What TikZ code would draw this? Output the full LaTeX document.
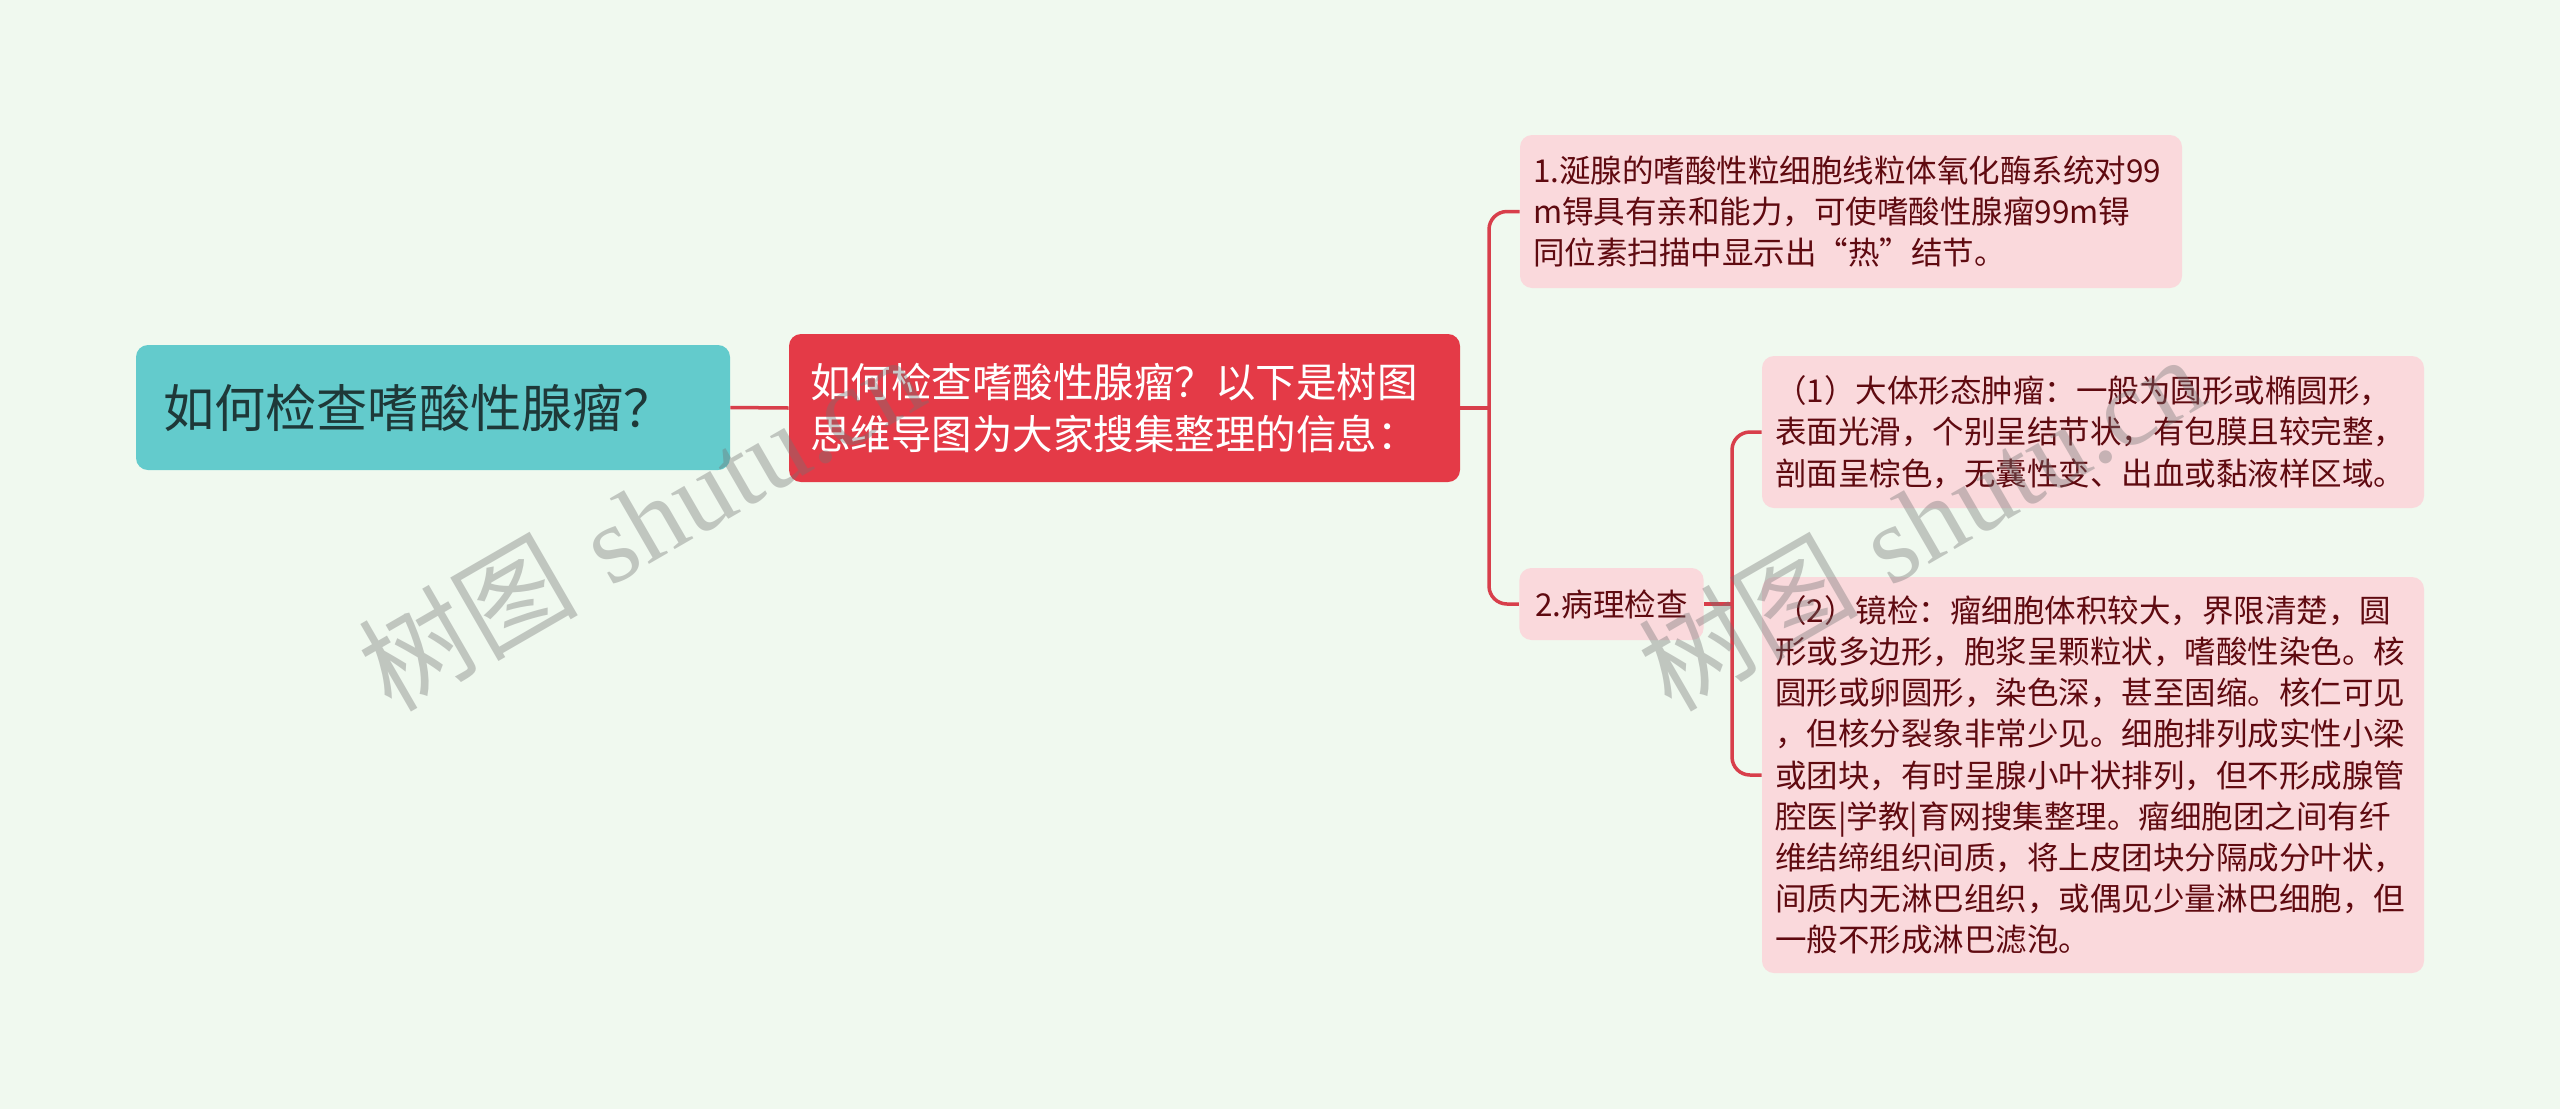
\documentclass[tikz,border=0pt]{standalone}
\usepackage{fontspec}
\newfontfamily\cjk{Noto Sans CJK SC}
\newfontfamily\wmserif{Liberation Serif}
\definecolor{bgc}{HTML}{F0F9EF}
\definecolor{rootc}{HTML}{63CBCC}
\definecolor{roottext}{HTML}{1E3838}
\definecolor{mainc}{HTML}{E43A47}
\definecolor{leafc}{HTML}{FAD9DC}
\definecolor{leaftext}{HTML}{5F0A10}
\definecolor{linec}{HTML}{D83F4B}
\tikzset{
  box/.style={rounded corners=6pt, inner ysep=0pt, align=left, anchor=center},
  rootbox/.style={box, fill=rootc, text=roottext, font=\cjk\fontsize{25.6}{32}\selectfont,
    text width=270pt, inner xsep=13.5pt, minimum height=62.5pt},
  mainbox/.style={box, fill=mainc, text=white, font=\cjk\fontsize{20.25}{26}\selectfont,
    text width=314.5pt, inner xsep=10.5pt, minimum height=74pt},
  leafbase/.style={box, fill=leafc, text=leaftext, font=\cjk\fontsize{15.75}{20.6}\selectfont},
  leafwide/.style={leafbase, text width=318pt, inner xsep=6.5pt},
  conn/.style={draw=linec, line width=1.75pt, rounded corners=9pt},
  wm/.style={text=black!55, opacity=0.38, font=\fontsize{55}{60}\selectfont, inner sep=0pt}
}
\begin{document}
\begin{tikzpicture}[x=0.5pt,y=-0.5pt]
\useasboundingbox (0,0) rectangle (2560,1109);
\fill[bgc] (0,0) rectangle (2560,1109);

\node[rootbox] (root) at (433,407.5) {如何检查嗜酸性腺瘤？};
\node[mainbox] (main) at (1124.5,408) {如何检查嗜酸性腺瘤？以下是树图\\思维导图为大家搜集整理的信息：};
\node[leafwide, minimum height=76.5pt] (n1) at (1851,211.5) {1.涎腺的嗜酸性粒细胞线粒体氧化酶系统对99\\m锝具有亲和能力，可使嗜酸性腺瘤99m锝\\同位素扫描中显示出“热”结节。};
\node[leafbase, minimum width=91.5pt, minimum height=36pt, inner xsep=8pt] (n2) at (1611.5,604) {2.病理检查};
\node[leafwide, minimum height=76pt] (s1) at (2093,432) {（1）大体形态肿瘤：一般为圆形或椭圆形，\\表面光滑，个别呈结节状，有包膜且较完整，\\剖面呈棕色，无囊性变、出血或黏液样区域。};
\node[leafwide, minimum height=198pt] (s2) at (2093,775) {（2）镜检：瘤细胞体积较大，界限清楚，圆\\形或多边形，胞浆呈颗粒状，嗜酸性染色。核\\圆形或卵圆形，染色深，甚至固缩。核仁可见\\，但核分裂象非常少见。细胞排列成实性小梁\\或团块，有时呈腺小叶状排列，但不形成腺管\\腔医|学教|育网搜集整理。瘤细胞团之间有纤\\维结缔组织间质，将上皮团块分隔成分叶状，\\间质内无淋巴组织，或偶见少量淋巴细胞，但\\一般不形成淋巴滤泡。};

\coordinate (j1) at (1489,408);
\coordinate (j2) at (1732,604);
\draw[conn] (root.east) -- (main.west);
\draw[conn] (main.east) -- (j1);
\draw[conn] (j1) |- (n1.west);
\draw[conn] (j1) |- (n2.west);
\draw[conn] (n2.east) -- (j2);
\draw[conn] (j2) |- (s1.west);
\draw[conn] (j2) |- (s2.west);

\node[wm, rotate=30] (wm1) at (640,522) {{\cjk 树图} {\wmserif shutu.cn}};
\node[wm, rotate=30] (wm2) at (1920,522) {{\cjk 树图} {\wmserif shutu.cn}};
\end{tikzpicture}
\end{document}
